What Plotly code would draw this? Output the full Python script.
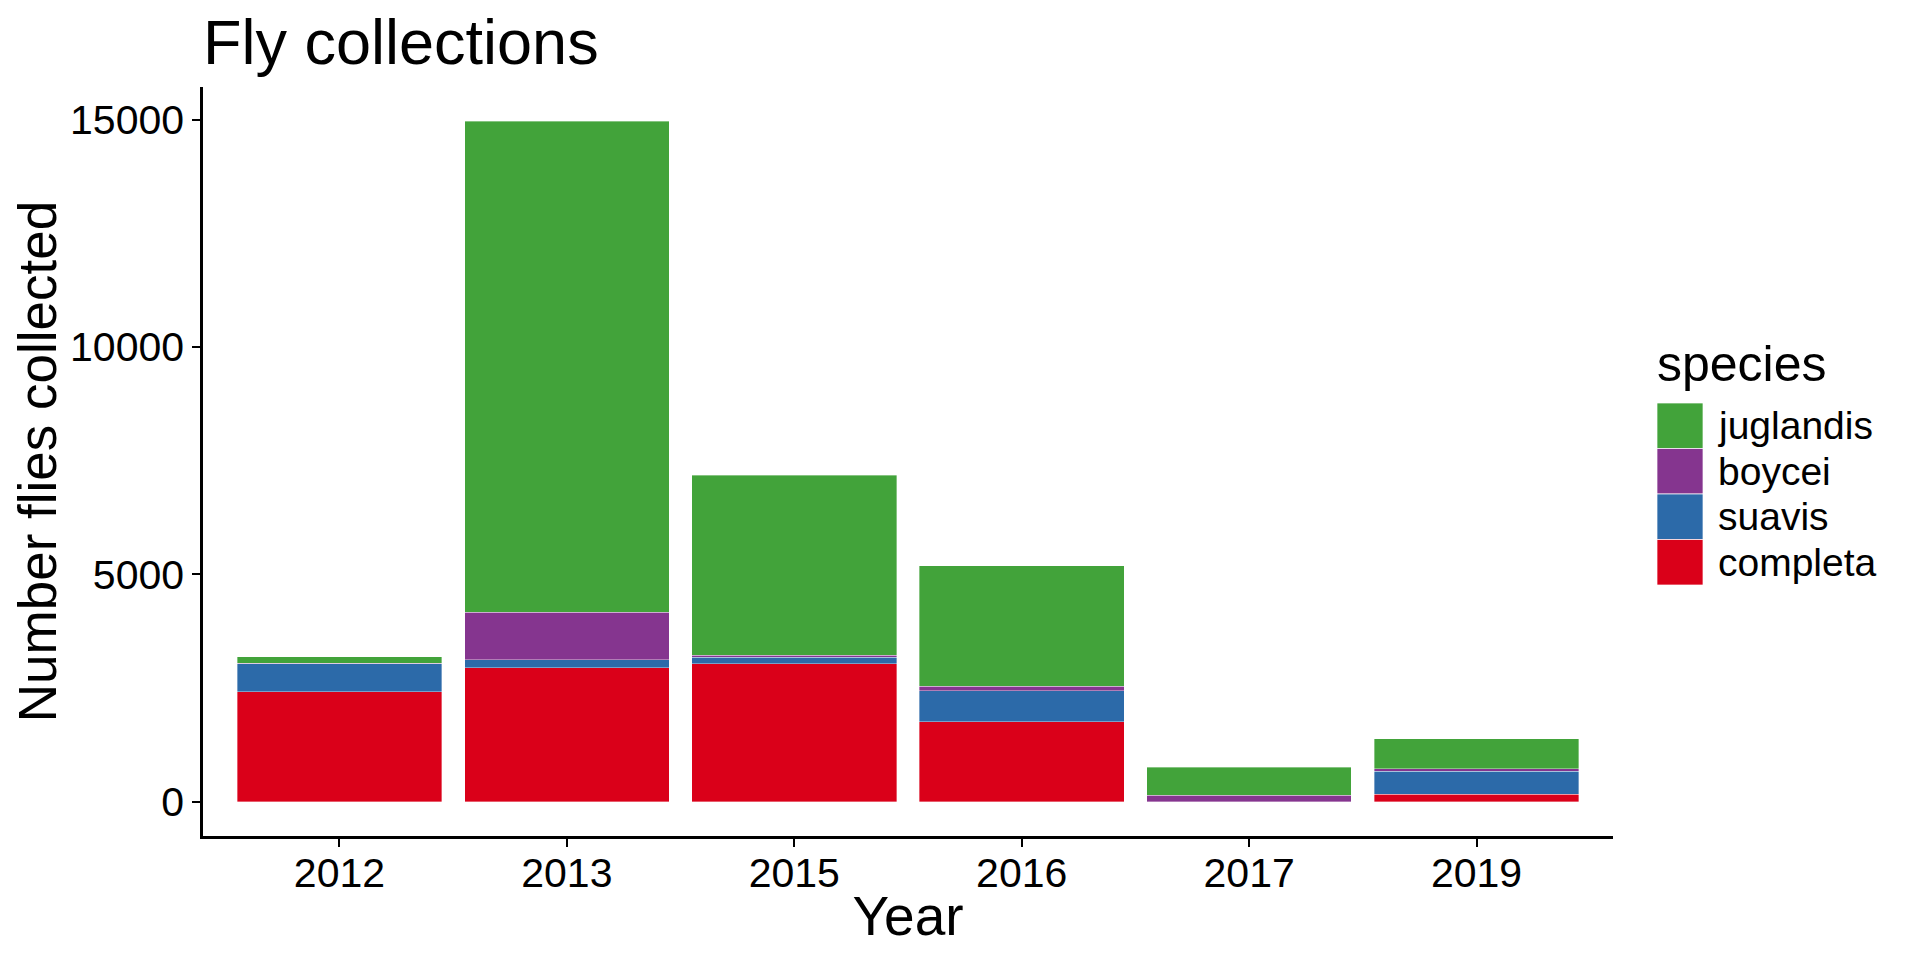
import plotly.graph_objects as go

years = ["2012", "2013", "2015", "2016", "2017", "2019"]
species = ["completa", "suavis", "boycei", "juglandis"]
completa = [2425, 2950, 3040, 1760, 0, 175]
suavis = [610, 175, 140, 690, 0, 505]
boycei = [15, 1045, 45, 90, 150, 45]
juglandis = [145, 10795, 3960, 2650, 615, 660]
colors = {"completa": "#DA0019", "suavis": "#2C6AA9", "boycei": "#85358F", "juglandis": "#42A33A"}
values = {"completa": completa, "suavis": suavis, "boycei": boycei, "juglandis": juglandis}

FONT = "Liberation Sans, Arial, sans-serif"
OFF = 8  # default page body margin
W, H = 1920 - 2 * OFF, 960 - 2 * OFF
L, R, T, B = 203 - OFF, 1613 - OFF, 87 - OFF, 836 - OFF

fig = go.Figure()
for sp in species:
    fig.add_trace(go.Bar(
        x=years, y=values[sp], name=sp,
        marker=dict(color=colors[sp], line=dict(color="rgba(255,255,255,0.6)", width=0.6)),
        showlegend=False,
    ))

def px2paper_x(px):
    return (px - OFF - L) / (R - L)

def px2paper_y(py):
    return (B - (py - OFF)) / (B - T)

legend_order = ["juglandis", "boycei", "suavis", "completa"]
shapes = []
annotations = []
key_x0, key_x1 = 1657, 1703
key_top, key_h = 403, 45.5
for i, sp in enumerate(legend_order):
    y0 = key_top + i * key_h
    y1 = y0 + key_h
    shapes.append(dict(type="rect", xref="paper", yref="paper",
                       x0=px2paper_x(key_x0), x1=px2paper_x(key_x1),
                       y0=px2paper_y(y1), y1=px2paper_y(y0),
                       fillcolor=colors[sp], line=dict(color="rgba(255,255,255,0.7)", width=1)))
    annotations.append(dict(xref="paper", yref="paper", x=px2paper_x(1716), y=px2paper_y((y0 + y1) / 2),
                            text=sp, showarrow=False, xanchor="left", yanchor="middle",
                            font=dict(family=FONT, size=39, color="black")))
annotations.append(dict(xref="paper", yref="paper", x=px2paper_x(1655), y=px2paper_y(364),
                        text="species", showarrow=False, xanchor="left", yanchor="middle",
                        font=dict(family=FONT, size=50, color="black")))

fig.update_layout(
    width=W, height=H,
    barmode="stack", bargap=0.1,
    plot_bgcolor="white", paper_bgcolor="white",
    margin=dict(l=L, r=W - R, t=T, b=H - B, autoexpand=False),
    title=dict(text="Fly collections", x=0, xref="paper", xanchor="left",
               y=1 - (42 - OFF) / H, yref="container", yanchor="middle",
               font=dict(family=FONT, size=63, color="black")),
    font=dict(family=FONT, color="black"),
    shapes=shapes, annotations=annotations,
    xaxis=dict(type="category", categoryorder="array", categoryarray=years,
               range=[-0.6, 5.6], showgrid=False, zeroline=False,
               showline=True, linecolor="black", linewidth=2.5,
               ticks="outside", ticklen=8, tickwidth=2, tickcolor="black",
               ticklabelstandoff=-9,
               tickfont=dict(family=FONT, size=41, color="black"),
               title=dict(text="Year", font=dict(family=FONT, size=55, color="black"), standoff=2),
               automargin=False),
    yaxis=dict(range=[-748, 15715], tickvals=[0, 5000, 10000, 15000],
               ticktext=["0", "5000", "10000", "15000"],
               showgrid=False, zeroline=False,
               showline=True, linecolor="black", linewidth=2.5,
               ticks="outside", ticklen=8, tickwidth=2, tickcolor="black",
               tickfont=dict(family=FONT, size=41, color="black"),
               title=dict(text="Number flies collected", font=dict(family=FONT, size=53, color="black"), standoff=14),
               automargin=False),
)

fig.write_html("out.html")
